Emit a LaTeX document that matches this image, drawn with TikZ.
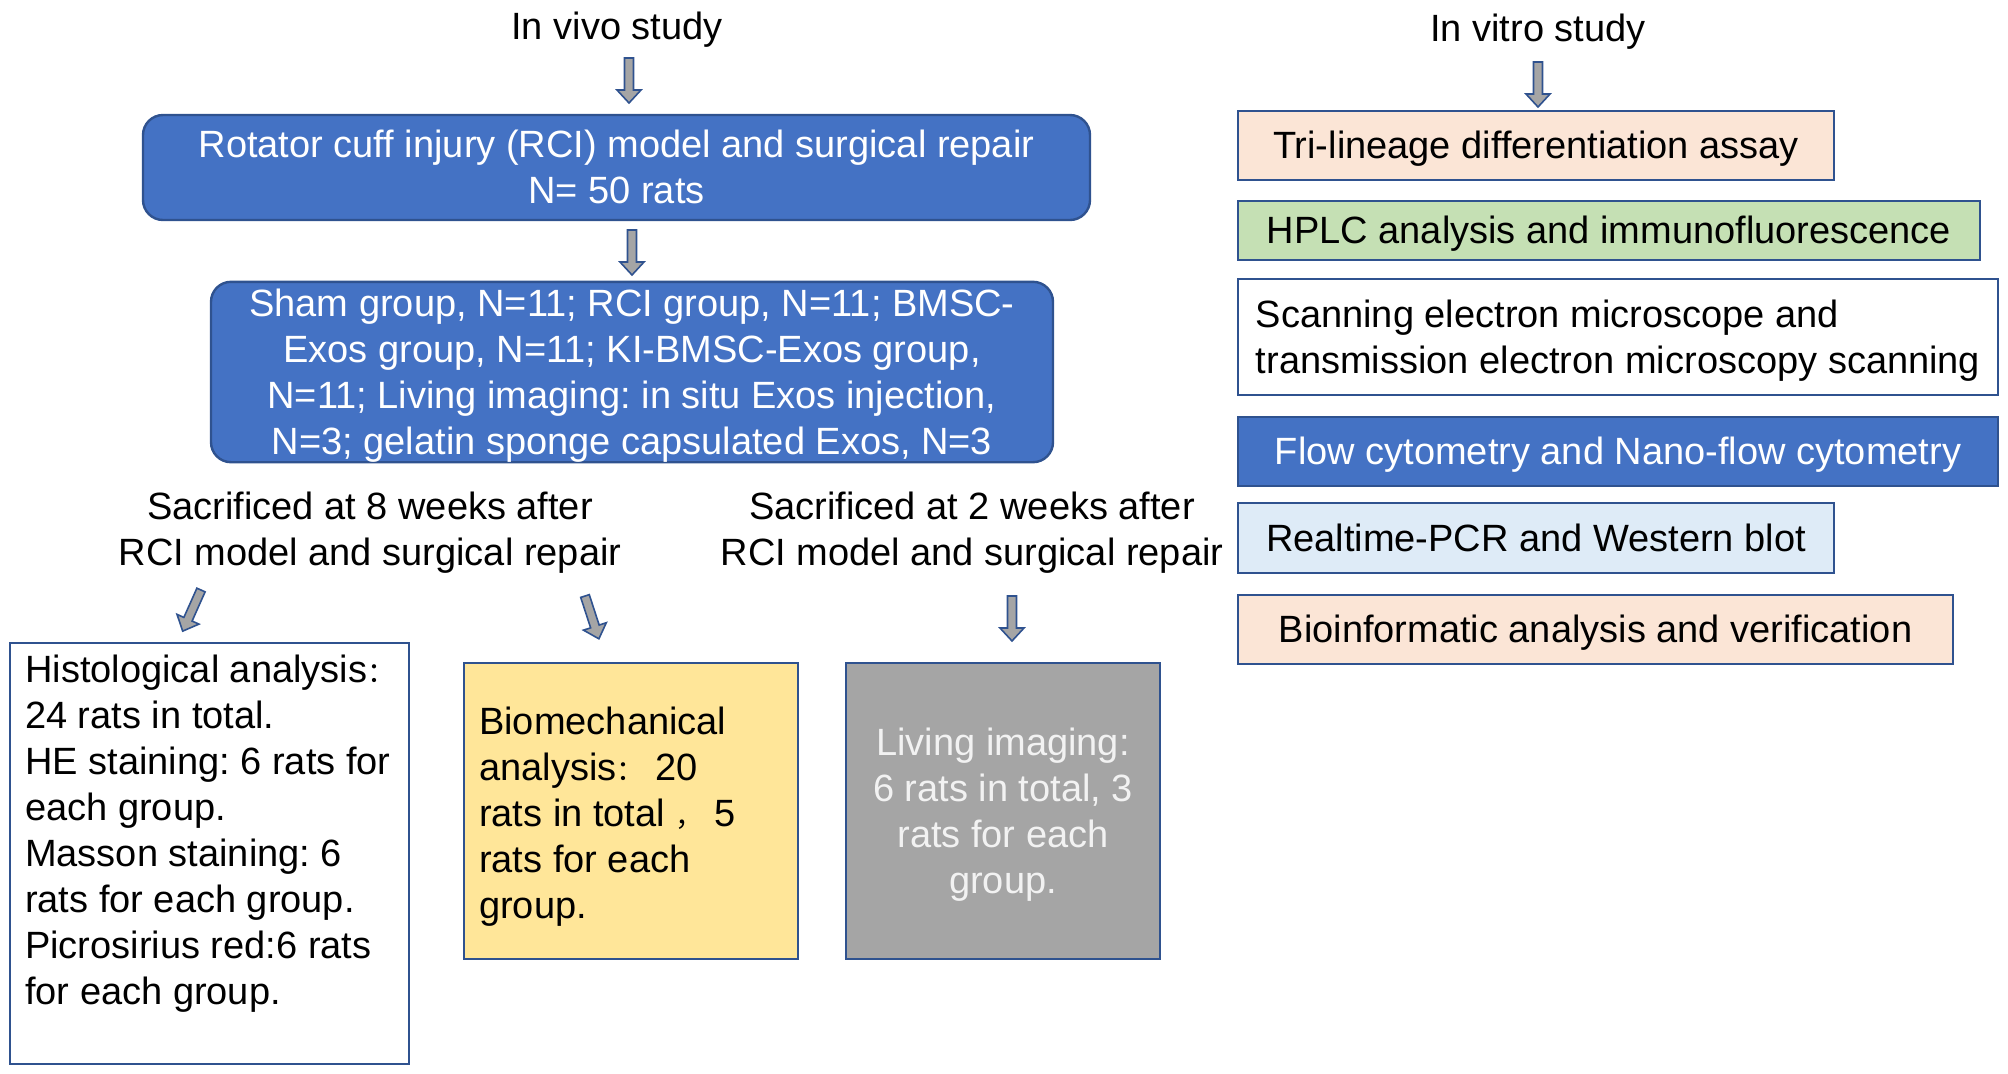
\documentclass[tikz,border=0pt]{standalone}
\usepackage{fontspec}
\setmainfont{Liberation Sans}
\newfontfamily\cjk{Noto Sans CJK SC}
\definecolor{cuffblue}{HTML}{4472C4}
\definecolor{edgeblue}{HTML}{2F528F}
\definecolor{peach}{HTML}{FBE5D6}
\definecolor{mint}{HTML}{C5E0B4}
\definecolor{skyblue}{HTML}{DEEBF7}
\definecolor{butter}{HTML}{FFE699}
\definecolor{stone}{HTML}{A5A5A5}
\newcommand\firststrut{\rule{0pt}{17.2pt}}
\newcommand\laststrut{\rule[-4pt]{0pt}{4pt}}
\newcommand\smallcjk[1]{{\cjk\fontsize{14}{23}\selectfont #1}}
\frenchspacing
\begin{document}
\begin{tikzpicture}[x=0.5pt,y=-0.5pt,
  txt/.style={font=\fontsize{19}{23}\selectfont,inner sep=0pt,align=center},
  oneline/.style={text height=17.2pt,text depth=4pt},
  framed/.style={txt,draw=edgeblue,line width=1.2pt},
  roundbox/.style={framed,fill=cuffblue,text=white,rounded corners=10pt},
  blockarr/.pic={\draw[edgeblue,line width=0.8pt,fill=stone]
    (-4.5,0)--(4.5,0)--(4.5,32)--(12,32)--(0,45)--(-12,32)--(-4.5,32)--cycle;}]
\useasboundingbox (0,0) rectangle (2008,1073);
%
% in vivo column
\node[txt,oneline] (vivo) at (617,26) {In vivo study};
\pic at (629,58) {blockarr};
\node[roundbox,minimum width=473.5pt,minimum height=52.5pt] (rci) at (616.5,167.5)
  {\firststrut Rotator cuff injury (RCI) model and surgical repair\\N= 50 rats\laststrut};
\pic at (632,230) {blockarr};
\node[roundbox,minimum width=421pt,minimum height=90pt] (groups) at (632,372)
  {\firststrut Sham group, N=11; RCI group, N=11; BMSC-\\Exos group, N=11; KI-BMSC-Exos group,\\
   N=11; Living imaging: in situ Exos injection,\\N=3; gelatin sponge capsulated Exos, N=3\laststrut};
\node[txt] (sac8) at (370,529) {\firststrut Sacrificed at 8 weeks after\\RCI model and surgical repair\laststrut};
\node[txt] (sac2) at (972,529) {\firststrut Sacrificed at 2 weeks after\\RCI model and surgical repair\laststrut};
%
\pic[rotate=-24] at (201,590) {blockarr};
\pic[rotate=18] at (585,596) {blockarr};
\pic at (1012,596) {blockarr};
%
\node[framed,fill=white,minimum width=199.5pt,minimum height=210.5pt] (histo) at (209.5,853.5) {};
\node[txt,align=left,anchor=north west] (histotext) at ([xshift=8pt,yshift=-3pt]histo.north west)
  {\firststrut Histological analysis\smallcjk{：}\\24 rats in total.\\HE staining: 6 rats for\\each group.\\
   Masson staining: 6\\rats for each group.\\Picrosirius red:6 rats\\for each group.};
\node[framed,fill=butter,minimum width=167pt,minimum height=148pt] (biomech) at (631,811) {};
\node[txt,align=left,anchor=west] (biomechtext) at ([xshift=8pt,yshift=-1pt]biomech.west)
  {\firststrut Biomechanical\\analysis\smallcjk{：} 20\\rats in total \smallcjk{，} 5\\rats for each\\group.\laststrut};
\node[framed,fill=stone,text=white!95!black,minimum width=157pt,minimum height=148pt] (living) at (1003,811)
  {\firststrut Living imaging:\\6 rats in total, 3\\rats for each\\group.\laststrut};
%
% in vitro column
\node[txt,oneline] (vitro) at (1538,28) {In vitro study};
\pic at (1538,62) {blockarr};
\node[framed,oneline,fill=peach,minimum width=298pt,minimum height=34.5pt] (trilin) at (1536,145.5)
  {Tri-lineage differentiation assay};
\node[framed,oneline,fill=mint,minimum width=371pt,minimum height=29.5pt] (hplc) at (1609,230.5)
  {HPLC analysis and immunofluorescence};
\node[framed,fill=white,align=left,minimum width=380pt,minimum height=58pt] (sem) at (1618,337)
  {\firststrut Scanning electron microscope and\\transmission electron microscopy scanning\laststrut};
\node[framed,oneline,fill=cuffblue,text=white,minimum width=380pt,minimum height=34.5pt] (flow) at (1618,451.5)
  {Flow cytometry and Nano-flow cytometry};
\node[framed,oneline,fill=skyblue,minimum width=298pt,minimum height=35pt] (pcr) at (1536,538)
  {Realtime-PCR and Western blot};
\node[framed,oneline,fill=peach,minimum width=357.5pt,minimum height=34.5pt] (bioinf) at (1595.5,629.5)
  {Bioinformatic analysis and verification};
\end{tikzpicture}
\end{document}
